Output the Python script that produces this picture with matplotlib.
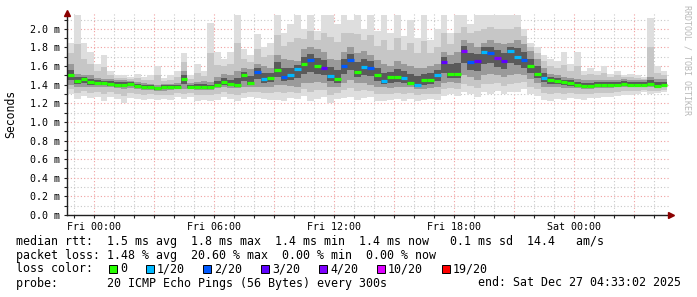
import numpy as np
import matplotlib
matplotlib.use("Agg")
import matplotlib.pyplot as plt
from matplotlib.patches import Rectangle

# ---- data (values in ms, 20-minute steps) ----
start_hour = -4 / 3          # Thu 22:40, hours relative to Fri 00:00
step_hour = 1 / 3

median = [
    1.50, 1.44, 1.46, 1.43, 1.42, 1.42, 1.41, 1.40, 1.40, 1.41,
    1.39, 1.38, 1.38, 1.36, 1.38, 1.38, 1.38, 1.46, 1.38, 1.38,
    1.38, 1.37, 1.40, 1.43, 1.41, 1.40, 1.50, 1.42, 1.54, 1.46,
    1.47, 1.56, 1.48, 1.50, 1.57, 1.62, 1.66, 1.60, 1.58, 1.49,
    1.46, 1.60, 1.66, 1.54, 1.59, 1.58, 1.50, 1.44, 1.48, 1.48,
    1.47, 1.42, 1.40, 1.45, 1.45, 1.50, 1.64, 1.52, 1.52, 1.76,
    1.64, 1.65, 1.75, 1.74, 1.69, 1.65, 1.76, 1.70, 1.66, 1.60,
    1.52, 1.47, 1.45, 1.44, 1.43, 1.42, 1.40, 1.39, 1.39, 1.40,
    1.40, 1.40, 1.40, 1.41, 1.40, 1.40, 1.40, 1.41, 1.39, 1.40,
]

# pings lost out of 20 per step
loss = [
    0, 0, 0, 0, 0, 0, 0, 0, 0, 0,
    0, 0, 0, 0, 0, 0, 0, 0, 0, 0,
    0, 0, 0, 0, 0, 0, 0, 0, 2, 1,
    0, 0, 2, 1, 1, 0, 2, 0, 3, 1,
    0, 2, 2, 0, 1, 2, 0, 1, 0, 0,
    1, 0, 1, 0, 0, 1, 3, 0, 0, 4,
    2, 3, 1, 2, 4, 3, 1, 1, 2, 0,
    0, 1, 0, 0, 0, 0, 0, 0, 0, 0,
    0, 0, 0, 0, 0, 0, 0, 0, 0, 0,
]

smoke_min = [
    1.30, 1.25, 1.28, 1.26, 1.27, 1.22, 1.27, 1.25, 1.20, 1.26,
    1.25, 1.24, 1.25, 1.24, 1.25, 1.24, 1.27, 1.25, 1.27, 1.23,
    1.24, 1.23, 1.24, 1.27, 1.25, 1.22, 1.26, 1.27, 1.26, 1.25,
    1.24, 1.24, 1.22, 1.26, 1.25, 1.28, 1.22, 1.25, 1.27, 1.20,
    1.25, 1.26, 1.27, 1.24, 1.26, 1.27, 1.23, 1.22, 1.24, 1.25,
    1.23, 1.25, 1.22, 1.24, 1.25, 1.24, 1.28, 1.30, 1.28, 1.32,
    1.30, 1.27, 1.32, 1.30, 1.33, 1.30, 1.32, 1.32, 1.35, 1.30,
    1.28, 1.24, 1.23, 1.25, 1.24, 1.26, 1.25, 1.24, 1.26, 1.26,
    1.27, 1.27, 1.28, 1.29, 1.29, 1.30, 1.32, 1.30, 1.31, 1.32,
]
smoke_q1 = [
    1.40, 1.38, 1.38, 1.37, 1.37, 1.37, 1.37, 1.36, 1.35, 1.36,
    1.35, 1.34, 1.34, 1.33, 1.33, 1.34, 1.35, 1.35, 1.35, 1.34,
    1.34, 1.34, 1.36, 1.37, 1.36, 1.36, 1.37, 1.38, 1.38, 1.38,
    1.38, 1.40, 1.40, 1.39, 1.38, 1.42, 1.42, 1.43, 1.42, 1.38,
    1.37, 1.42, 1.45, 1.42, 1.42, 1.40, 1.38, 1.37, 1.36, 1.37,
    1.37, 1.37, 1.35, 1.35, 1.36, 1.37, 1.42, 1.43, 1.42, 1.50,
    1.48, 1.45, 1.50, 1.52, 1.50, 1.48, 1.50, 1.52, 1.50, 1.46,
    1.42, 1.38, 1.37, 1.37, 1.36, 1.36, 1.36, 1.35, 1.35, 1.36,
    1.36, 1.36, 1.37, 1.37, 1.37, 1.37, 1.37, 1.37, 1.36, 1.37,
]
smoke_q3 = [
    1.62, 1.52, 1.50, 1.50, 1.47, 1.46, 1.46, 1.45, 1.45, 1.44,
    1.43, 1.42, 1.41, 1.40, 1.41, 1.41, 1.42, 1.55, 1.42, 1.43,
    1.44, 1.43, 1.48, 1.52, 1.50, 1.55, 1.58, 1.57, 1.62, 1.60,
    1.58, 1.72, 1.68, 1.66, 1.65, 1.78, 1.80, 1.78, 1.75, 1.68,
    1.66, 1.75, 1.80, 1.74, 1.76, 1.72, 1.66, 1.62, 1.60, 1.65,
    1.62, 1.60, 1.58, 1.58, 1.60, 1.62, 1.75, 1.72, 1.75, 1.88,
    1.85, 1.80, 1.85, 1.88, 1.85, 1.84, 1.85, 1.88, 1.84, 1.76,
    1.68, 1.58, 1.52, 1.50, 1.48, 1.47, 1.46, 1.45, 1.45, 1.45,
    1.45, 1.45, 1.45, 1.46, 1.45, 1.45, 1.45, 1.48, 1.46, 1.46,
]
smoke_max = [
    1.85, 2.15, 1.85, 1.75, 1.62, 1.72, 1.55, 1.50, 1.50, 1.48,
    1.52, 1.48, 1.50, 1.60, 1.47, 1.50, 1.55, 1.74, 1.50, 1.62,
    1.55, 2.06, 1.75, 1.68, 1.75, 2.15, 1.78, 1.72, 1.94, 1.80,
    1.85, 2.15, 1.95, 2.05, 2.15, 2.00, 2.15, 1.98, 2.15, 2.15,
    2.05, 2.15, 2.10, 2.15, 2.00, 2.15, 1.98, 2.15, 1.95, 2.15,
    1.92, 2.10, 1.90, 2.15, 1.88, 2.00, 2.15, 1.95, 2.15, 2.15,
    2.05, 2.15, 2.15, 2.15, 2.15, 2.15, 2.15, 2.15, 2.00, 1.85,
    1.80, 1.72, 1.68, 1.65, 1.75, 1.62, 1.75, 1.55, 1.58, 1.55,
    1.60, 1.52, 1.55, 1.50, 1.52, 1.50, 1.48, 2.12, 1.60, 1.55,
]

loss_thresholds = [0, 1, 2, 3, 4, 10, 19]
loss_labels = ["0", "1/20", "2/20", "3/20", "4/20", "10/20", "19/20"]
loss_colors = ["#26ff00", "#00b8ff", "#0059ff", "#5e00ff", "#7e00ff", "#dd00ff", "#ff0000"]

xtick_hours = [0, 6, 12, 18, 24]
xtick_labels = ["Fri 00:00", "Fri 06:00", "Fri 12:00", "Fri 18:00", "Sat 00:00"]

legend_rows = [
    "median rtt:  1.5 ms avg  1.8 ms max  1.4 ms min  1.4 ms now   0.1 ms sd  14.4   am/s",
    "packet loss: 1.48 % avg  20.60 % max  0.00 % min  0.00 % now",
    "loss color:",
    "probe:       20 ICMP Echo Pings (56 Bytes) every 300s",
]
end_text = "end: Sat Dec 27 04:33:02 2025"

# ---- figure ----
W, H = 697, 297
MONO = "DejaVu Sans Mono"
fig = plt.figure(figsize=(W / 100, H / 100), dpi=100)
fig.patch.set_facecolor("white")
ax = fig.add_axes([67 / W, 82 / H, (669 - 67) / W, 202 / H])

n = len(median)
t = start_hour + step_hour * np.arange(n)
edges = np.append(t, t[-1] + step_hour)


def padded(v):
    v = np.asarray(v, dtype=float)
    return np.append(v, v[-1])


med = np.asarray(median)
lo, q1, q3, hi = (np.asarray(a) for a in (smoke_min, smoke_q1, smoke_q3, smoke_max))

# smoke layers, lightest outside
ax.fill_between(edges, padded(lo), padded(hi), step="post", color="#dedede", lw=0, zorder=2)
ax.fill_between(edges, padded((lo + q1) / 2), padded((q3 + hi) / 2), step="post",
                color="#c6c6c6", lw=0, zorder=2)
ax.fill_between(edges, padded(q1), padded(q3), step="post", color="#9a9a9a", lw=0, zorder=3)
ax.fill_between(edges, padded((q1 + med) / 2), padded((q3 + med) / 2), step="post",
                color="#5a5a5a", lw=0, zorder=3)

# median, coloured by loss
color_idx = np.searchsorted(loss_thresholds, loss, side="right") - 1
ax.hlines(med, t, t + step_hour, colors=[loss_colors[i] for i in color_idx],
          linewidth=2.3, zorder=5)

ax.set_xlim(-1.35, 28.75)
ax.set_ylim(0, 2.17)

ax.set_yticks(np.arange(0, 2.01, 0.2))
ax.set_yticks(np.arange(0.1, 2.11, 0.2), minor=True)
ax.set_yticklabels([f"{v:.1f} m" for v in np.arange(0, 2.01, 0.2)])

major_x = np.arange(0, 28, 3)
ax.set_xticks(major_x)
ax.set_xticklabels([xtick_labels[xtick_hours.index(h)] if h in xtick_hours else ""
                    for h in major_x])
ax.set_xticks([h for h in range(-1, 29) if h % 3], minor=True)

ax.grid(which="major", color="#f0a0a0", linestyle=(0, (1, 2)), lw=0.8, zorder=1)
ax.grid(which="minor", color="#c8c8c8", linestyle=(0, (1, 2)), lw=0.8, zorder=1)
ax.set_axisbelow(True)

for s in ("top", "right"):
    ax.spines[s].set_visible(False)
for s in ("left", "bottom"):
    ax.spines[s].set_color("#202020")
    ax.spines[s].set_linewidth(1.0)
    ax.spines[s].set_zorder(6)

ax.tick_params(axis="both", which="both", direction="out", length=2, width=0.8,
               color="#202020", labelsize=7.2, pad=3)
for lab in ax.get_xticklabels() + ax.get_yticklabels():
    lab.set_family(MONO)

# axis arrows
ax.plot([0], [1.0], marker="^", ms=4, color="#8b0000", transform=ax.transAxes, clip_on=False, zorder=7)
ax.plot([1.004], [0], marker=">", ms=4, color="#8b0000", transform=ax.transAxes, clip_on=False, zorder=7)

fig.text(11 / W, 1 - 114 / H, "Seconds", rotation=90, family=MONO, size=8.3,
         ha="center", va="center")
fig.text(687 / W, 1 - 60 / H, "RRDTOOL / TOBI OETIKER", rotation=270, family=MONO,
         size=6, color="#b8b8b8", ha="center", va="center")

# legend block
row_y = [241, 255, 269, 283]
for s, y in zip(legend_rows, row_y):
    fig.text(16 / W, 1 - y / H, s, family=MONO, size=8.4, ha="left", va="center")
fig.text(478 / W, 1 - 283 / H, end_text, family=MONO, size=8.4, ha="left", va="center")

box_x = [109, 146, 203, 261, 319, 377, 442]
for x, lab, col in zip(box_x, loss_labels, loss_colors):
    fig.add_artist(Rectangle((x / W, 1 - 273 / H), 8 / W, 8 / H, transform=fig.transFigure,
                             facecolor=col, edgecolor="black", lw=0.7))
    fig.text((x + 11) / W, 1 - 269 / H, lab, family=MONO, size=8.4, ha="left", va="center")

fig.savefig("out.png", dpi=100)
